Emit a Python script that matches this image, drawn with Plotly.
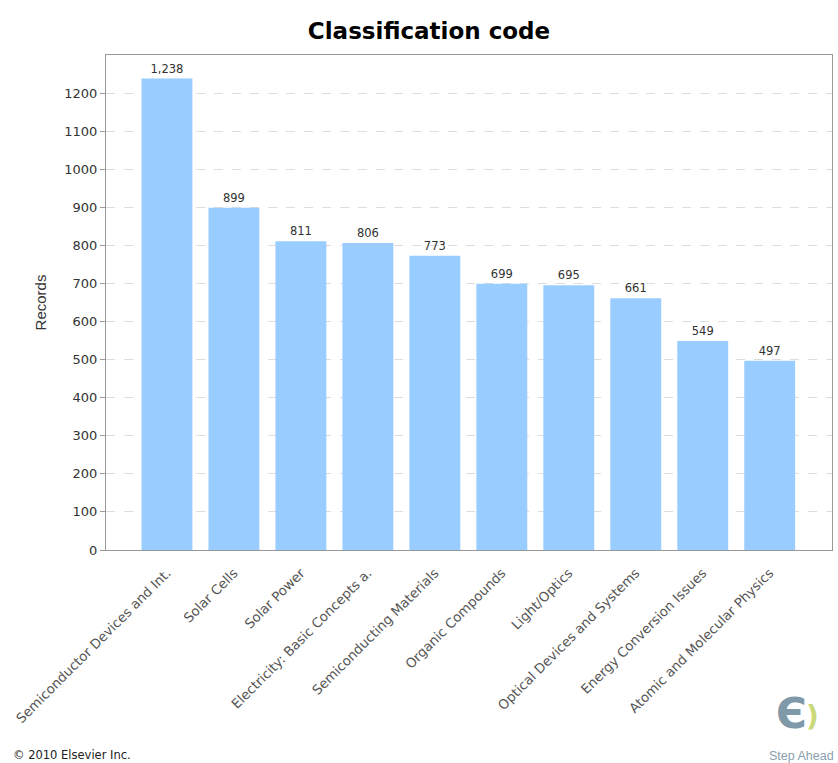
import plotly.graph_objects as go

categories = ["Semiconductor Devices and Int.", "Solar Cells", "Solar Power",
              "Electricity: Basic Concepts a.", "Semiconducting Materials",
              "Organic Compounds", "Light/Optics", "Optical Devices and Systems",
              "Energy Conversion Issues", "Atomic and Molecular Physics"]
records = [1238, 899, 811, 806, 773, 699, 695, 661, 549, 497]
y_ticks = [0, 100, 200, 300, 400, 500, 600, 700, 800, 900, 1000, 1100, 1200]

W, H = 838, 763
L, R, T, B = 106, 6, 55, 213
PW, PH = W - L - R, H - T - B


def px(x):
    return (x - L) / PW


def py(y):
    return (H - B - y) / PH


fig = go.Figure()
fig.add_trace(go.Bar(
    x=list(range(len(categories))), y=records,
    marker=dict(color="#99CCFF", line=dict(width=0)),
    width=0.76,
    text=[f"{v:,}" for v in records], textposition="outside",
    textfont=dict(family="DejaVu Sans", size=11.5, color="#333333"),
    cliponaxis=False,
))

fig.update_layout(
    width=W, height=H,
    margin=dict(l=L, r=R, t=T, b=B, autoexpand=False),
    paper_bgcolor="white", plot_bgcolor="white",
    showlegend=False,
    title=dict(text="<b>Classification code</b>", x=429 / W, xanchor="center",
               y=1 - 31 / H, yanchor="middle", xref="container", yref="container",
               font=dict(family="DejaVu Sans", size=23, color="black")),
    xaxis=dict(
        tickmode="array", tickvals=list(range(len(categories))), ticktext=categories,
        range=[-0.91, 9.93], tickangle=-45,
        tickfont=dict(family="DejaVu Sans", size=13.3, color="#555555"),
        ticklabelstandoff=9,
        showgrid=False, zeroline=False, automargin=False,
        showline=True, linecolor="#999999", linewidth=1, mirror=True,
        ticks="", ticklen=0,
    ),
    yaxis=dict(
        range=[0, 1300], tickmode="array", tickvals=y_ticks,
        tickfont=dict(family="DejaVu Sans", size=13, color="#333333"),
        showgrid=True, gridcolor="#dddddd", griddash="dash", gridwidth=1,
        zeroline=False, automargin=False,
        showline=True, linecolor="#999999", linewidth=1, mirror=True,
        ticks="outside", ticklen=5, tickcolor="#999999",
        title=dict(text="Records", standoff=14,
                   font=dict(family="Liberation Sans, Arial", size=15, color="#333333")),
    ),
)

fig.add_annotation(text="© 2010 Elsevier Inc.", xref="paper", yref="paper",
                   x=px(11), y=py(755), xanchor="left", yanchor="middle",
                   showarrow=False,
                   font=dict(family="DejaVu Sans", size=11.5, color="#222222"))
# Logo
fig.add_annotation(text="<b>Є</b>", xref="paper", yref="paper",
                   x=px(791), y=py(713), xanchor="center", yanchor="middle",
                   showarrow=False,
                   font=dict(family="DejaVu Sans", size=42, color="#8099a8"))
fig.add_annotation(text="<b>)</b>", xref="paper", yref="paper",
                   x=px(812), y=py(716), xanchor="center", yanchor="middle",
                   showarrow=False,
                   font=dict(family="DejaVu Sans", size=28, color="#cbd97a"))
fig.add_annotation(text="Step Ahead", xref="paper", yref="paper",
                   x=px(836), y=py(756), xanchor="right", yanchor="middle",
                   showarrow=False,
                   font=dict(family="Liberation Sans, Arial", size=12.5, color="#8aa0b0"))

fig.write_html("out.html", config={"displayModeBar": False},
               post_script="document.body.style.margin='0';document.body.style.overflow='hidden';")
